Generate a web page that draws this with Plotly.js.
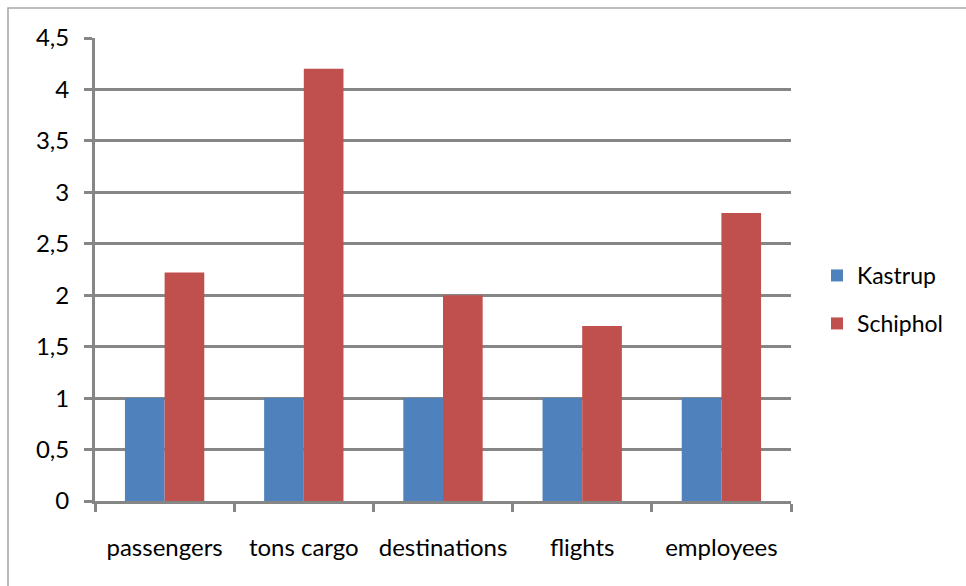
<!DOCTYPE html>
<html>
<head>
<meta charset="utf-8">
<script src="https://cdn.plot.ly/plotly-3.0.1.min.js"></script>
<style>
html,body{margin:0;padding:0;background:#fff;}
#chart{width:966px;height:586px;}
</style>
</head>
<body>
<div id="chart"></div>
<script>
const categories = ["passengers", "tons cargo", "destinations", "flights", "employees"];
const kastrup = [1, 1, 1, 1, 1];
const schiphol = [2.22, 4.2, 2.0, 1.7, 2.8];
const yTicks = [0, 0.5, 1, 1.5, 2, 2.5, 3, 3.5, 4, 4.5];

const fontFam = "Lato, 'Open Sans', sans-serif";
const fs = 24;
const gridCol = "#868686";

const traces = [
  {type: "bar", name: "Kastrup", x: categories, y: kastrup,
   marker: {color: "#4f81bd"}, legend: "legend"},
  {type: "bar", name: "Schiphol", x: categories, y: schiphol,
   marker: {color: "#c0504d"}, legend: "legend2"}
];

const L = 95, R = 791, T = 38, B = 501;
const pw = R - L, ph = B - T;

const layout = {
  width: 966, height: 586,
  margin: {l: L, r: 966 - R, t: T, b: 586 - B, pad: 0},
  separators: ", ",
  paper_bgcolor: "#fff", plot_bgcolor: "#fff",
  font: {family: fontFam, size: fs, color: "#000"},
  barmode: "group",
  bargap: 0.43,
  bargroupgap: 0,
  xaxis: {
    type: "category",
    showgrid: false,
    showline: true, linecolor: gridCol, linewidth: 3,
    ticks: "outside", tickson: "boundaries", ticklen: 8, tickwidth: 3, tickcolor: gridCol,
    ticklabelstandoff: 23,
    tickangle: 0,
    tickfont: {family: fontFam, size: fs, color: "#000"},
    fixedrange: true
  },
  yaxis: {
    range: [0, 4.5],
    tickmode: "array", tickvals: yTicks,
    ticktext: yTicks.map(v => String(v).replace(".", ",")),
    showgrid: true, gridcolor: gridCol, gridwidth: 3,
    showline: true, linecolor: gridCol, linewidth: 3,
    zeroline: false,
    ticks: "outside", ticklen: 8, tickwidth: 3, tickcolor: gridCol,
    ticklabelstandoff: 10,
    tickfont: {family: fontFam, size: fs, color: "#000"},
    fixedrange: true
  },
  showlegend: true,
  legend: {bgcolor: "rgba(0,0,0,0)", font: {family: fontFam, size: 23, color: "#000"}},
  legend2: {bgcolor: "rgba(0,0,0,0)", font: {family: fontFam, size: 23, color: "#000"}},
  shapes: [
    {type: "rect", xref: "paper", yref: "paper",
     x0: (8 - L) / pw, x1: (1000 - L) / pw,
     y0: (B - 620) / ph, y1: (B - 8) / ph,
     line: {color: "#a6a6a6", width: 1.5}, fillcolor: "rgba(0,0,0,0)", layer: "below"}
  ]
};
layout.legend.x = (817 - L) / pw;
layout.legend.y = (B - 254) / ph;
layout.legend.xanchor = "left"; layout.legend.yanchor = "top";
layout.legend2.x = (817 - L) / pw;
layout.legend2.y = (B - 302) / ph;
layout.legend2.xanchor = "left"; layout.legend2.yanchor = "top";

Plotly.newPlot("chart", traces, layout, {displayModeBar: false, staticPlot: true});
</script>
</body>
</html>
